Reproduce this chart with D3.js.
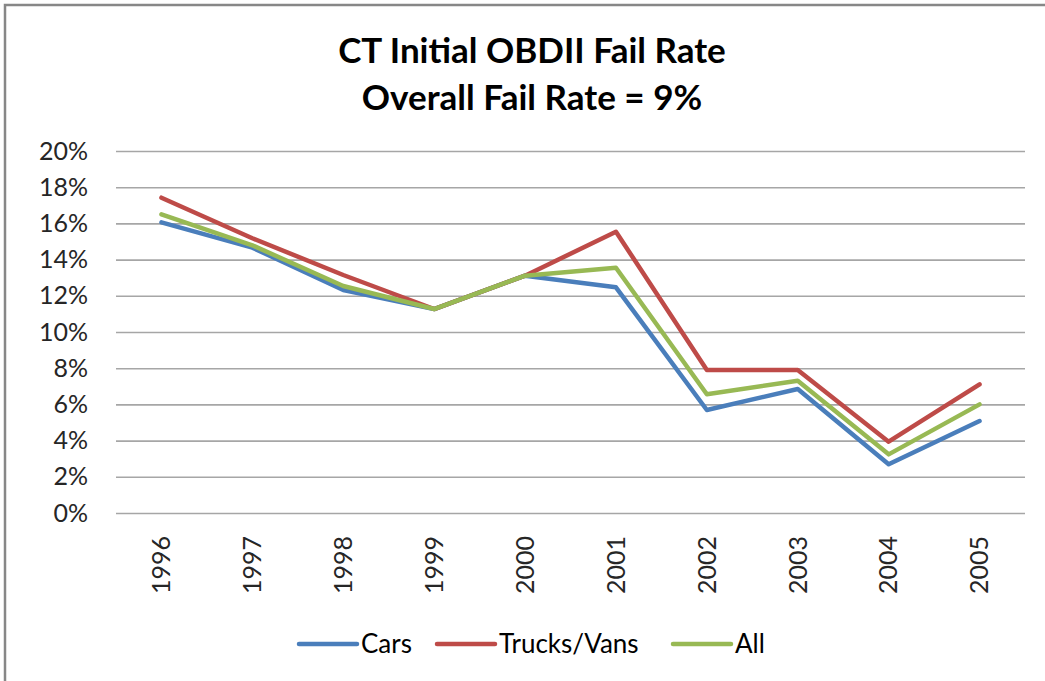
<!DOCTYPE html>
<html>
<head>
<meta charset="utf-8">
<script src="https://cdn.jsdelivr.net/npm/d3@7"></script>
<style>
    body { margin: 0; background: #fff; }
    svg text { font-family: Lato, "Open Sans", sans-serif; }
</style>
</head>
<body>
<div id="chart"></div>
<script>
// data
const years = ["1996", "1997", "1998", "1999", "2000", "2001", "2002", "2003", "2004", "2005"];
const cars = [0.1606, 0.1466, 0.1232, 0.1127, 0.1311, 0.1247, 0.0569, 0.0685, 0.0269, 0.0508];
const trucks = [0.1742, 0.1518, 0.1315, 0.1127, 0.1311, 0.1554, 0.0790, 0.0790, 0.0394, 0.0711];
const all = [0.1650, 0.1479, 0.1254, 0.1127, 0.1311, 0.1355, 0.0656, 0.0731, 0.0324, 0.0600];
const yTicks = [0, 0.02, 0.04, 0.06, 0.08, 0.10, 0.12, 0.14, 0.16, 0.18, 0.20];
const titleLines = ["CT Initial OBDII Fail Rate", "Overall Fail Rate = 9%"];

const series = [
    {name: "Cars", values: cars, color: "#4a7ebb"},
    {name: "Trucks/Vans", values: trucks, color: "#be4b48"},
    {name: "All", values: all, color: "#98b954"}
];

class FailRateVis {

    constructor(_parentElement, _series) {
        this.parentElement = _parentElement;
        this.series = _series;
        this.initVis();
    }

    initVis() {
        let vis = this;

        vis.width = 1045;
        vis.height = 681;

        vis.svg = d3.select("#" + vis.parentElement).append("svg")
            .attr("width", vis.width)
            .attr("height", vis.height);

        // chart border (only left and top show in the picture)
        vis.svg.append("rect")
            .attr("x", 5)
            .attr("y", 5)
            .attr("width", vis.width + 20)
            .attr("height", vis.height + 20)
            .attr("fill", "#fff")
            .attr("stroke", "#878787")
            .attr("stroke-width", 2.5);

        vis.plot = {left: 116, right: 1025, top: 151, bottom: 513};

        vis.xScale = d3.scaleBand()
            .domain(years)
            .range([vis.plot.left, vis.plot.right]);

        vis.yScale = d3.scaleLinear()
            .domain([0, 0.2])
            .range([vis.plot.bottom, vis.plot.top]);

        vis.updateVis();
    }

    updateVis() {
        let vis = this;

        // title
        vis.svg.selectAll(".title")
            .data(titleLines)
            .enter().append("text")
            .attr("class", "title")
            .attr("x", 532)
            .attr("y", (d, i) => 63 + i * 47)
            .attr("text-anchor", "middle")
            .attr("font-size", 35)
            .attr("font-weight", "bold")
            .attr("fill", "#000")
            .text(d => d);

        // gridlines + y labels
        let yAxis = d3.axisLeft(vis.yScale)
            .tickValues(yTicks)
            .tickSize(-(vis.plot.right - vis.plot.left))
            .tickPadding(28)
            .tickFormat(d3.format(".0%"));

        let yG = vis.svg.append("g")
            .attr("transform", "translate(" + vis.plot.left + ",0)")
            .call(yAxis);
        yG.select(".domain").remove();
        yG.selectAll(".tick line")
            .attr("stroke", "#a6a6a6")
            .attr("stroke-width", 1.6);
        yG.selectAll(".tick text")
            .attr("font-size", 25)
            .attr("font-family", "Lato, 'Open Sans', sans-serif")
            .attr("fill", "#262626");

        // x labels, rotated
        let xAxis = d3.axisBottom(vis.xScale)
            .tickSize(0)
            .tickPadding(0);

        let xG = vis.svg.append("g")
            .attr("transform", "translate(0," + vis.plot.bottom + ")")
            .call(xAxis);
        xG.select(".domain").remove();
        xG.selectAll(".tick text")
            .attr("font-size", 25)
            .attr("font-family", "Lato, 'Open Sans', sans-serif")
            .attr("fill", "#262626")
            .attr("transform", "rotate(-90)")
            .attr("text-anchor", "end")
            .attr("x", -23)
            .attr("y", 0)
            .attr("dy", "0.35em");

        // lines
        let line = d3.line()
            .x((d, i) => vis.xScale(years[i]) + vis.xScale.bandwidth() / 2)
            .y(d => vis.yScale(d));

        vis.svg.selectAll(".series")
            .data(vis.series)
            .enter().append("path")
            .attr("class", "series")
            .attr("d", d => line(d.values))
            .attr("fill", "none")
            .attr("stroke", d => d.color)
            .attr("stroke-width", 4.5)
            .attr("stroke-linejoin", "round")
            .attr("stroke-linecap", "round");

        // legend
        let legendX = [299, 437, 673];
        let legend = vis.svg.selectAll(".legend")
            .data(vis.series)
            .enter().append("g")
            .attr("class", "legend")
            .attr("transform", (d, i) => "translate(" + legendX[i] + ",644)");

        legend.append("line")
            .attr("x1", 0)
            .attr("x2", 58)
            .attr("stroke", d => d.color)
            .attr("stroke-width", 4.5)
            .attr("stroke-linecap", "round");

        legend.append("text")
            .attr("x", 62)
            .attr("dy", "0.35em")
            .attr("font-size", 26)
            .attr("fill", "#000")
            .text(d => d.name);
    }
}

new FailRateVis("chart", series);
</script>
</body>
</html>
